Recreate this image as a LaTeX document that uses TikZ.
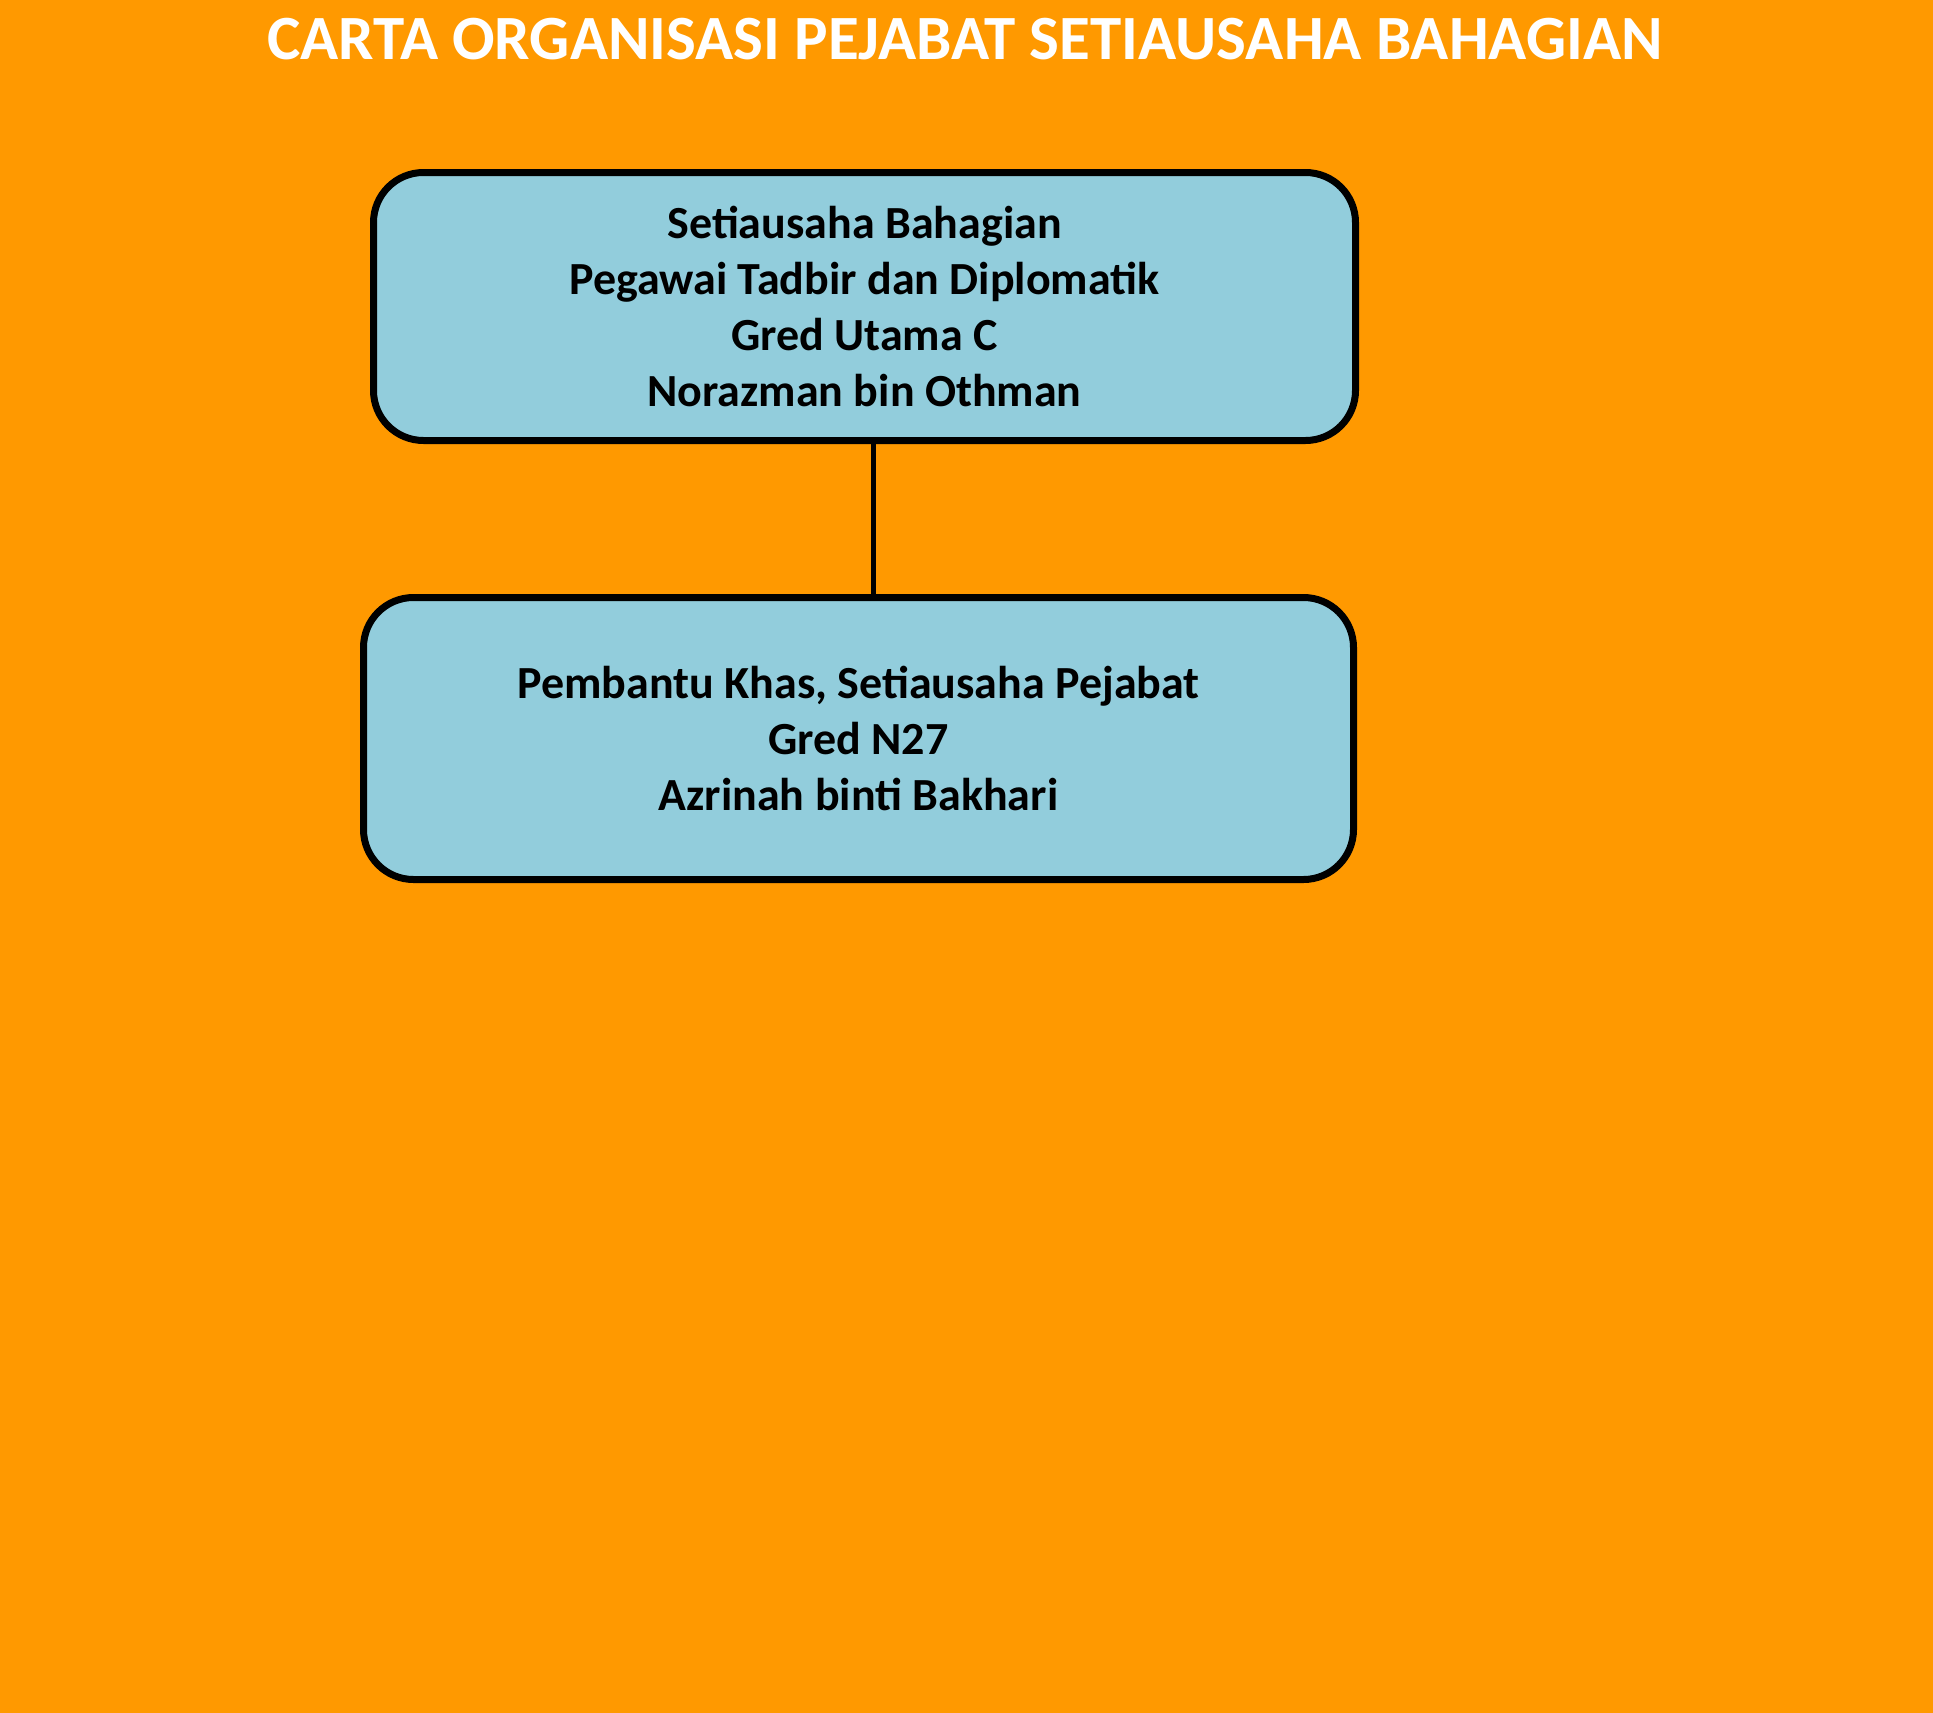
\documentclass[tikz,border=0pt]{standalone}
\usepackage{fontspec}
\setmainfont{Carlito}
\definecolor{bgorange}{HTML}{FF9900}
\definecolor{boxblue}{HTML}{92CDDC}
\begin{document}
\begin{tikzpicture}[x=1pt,y=-1pt,
  orgbox/.style={draw=black, line width=7pt, fill=boxblue, rounded corners=50pt,
    align=center, font=\fontsize{46}{56}\selectfont\bfseries, inner sep=0pt},
  titletext/.style={text=white, font=\fontsize{63}{72}\selectfont\bfseries, inner sep=0pt}]
\fill[bgorange] (0,0) rectangle (1933,1713);
\useasboundingbox (0,0) rectangle (1933,1713);
\node[titletext] (title) at (965,39) {CARTA ORGANISASI PEJABAT SETIAUSAHA BAHAGIAN};
\node[orgbox, minimum width=982pt, minimum height=268pt] (b1) at (864.5,306.5)
  {Setiausaha Bahagian\\Pegawai Tadbir dan Diplomatik\\Gred Utama C\\Norazman bin Othman};
\node[orgbox, minimum width=990pt, minimum height=282pt] (b2) at (858.5,738.5)
  {Pembantu Khas, Setiausaha Pejabat\\Gred N27\\Azrinah binti Bakhari};
\coordinate (cx) at (873,0);
\draw[line width=5pt] (b1.south -| cx) -- (b2.north -| cx);
\end{tikzpicture}
\end{document}
